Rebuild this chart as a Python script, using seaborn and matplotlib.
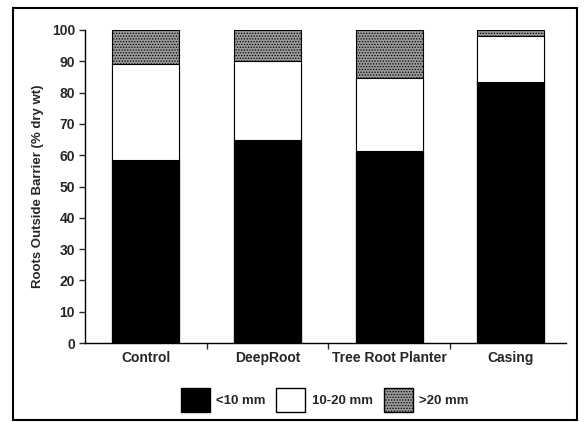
import numpy as np
import pandas as pd
import seaborn as sns
import matplotlib.pyplot as plt
import matplotlib.patches as patches
from matplotlib.ticker import FixedLocator

categories = ["Control", "DeepRoot", "Tree Root Planter", "Casing"]
small = [58.5, 65.0, 61.5, 83.5]      # <10 mm
medium = [30.5, 25.0, 23.0, 14.5]     # 10-20 mm
large = [11.0, 10.0, 15.5, 2.0]       # >20 mm
legend_labels = ["<10 mm", "10-20 mm", ">20 mm"]

df = pd.DataFrame({"treatment": categories, "small": small, "medium": medium, "large": large})
df["top_medium"] = df["small"] + df["medium"]
df["top_large"] = df["top_medium"] + df["large"]

sns.set_style("white")
plt.rcParams["font.family"] = ["Liberation Sans", "DejaVu Sans"]
plt.rcParams["font.weight"] = "bold"
plt.rcParams["hatch.color"] = "#3a3a3a"
plt.rcParams["hatch.linewidth"] = 0.6

fig = plt.figure(figsize=(5.85, 4.22), dpi=100)
ax = fig.add_axes([0.145, 0.187, 0.822, 0.742])

# overlay cumulative bars, tallest first
sns.barplot(data=df, x="treatment", y="top_large", color="#9a9a9a", width=0.55,
            edgecolor="black", linewidth=0.8, hatch="......", saturation=1, ax=ax)
sns.barplot(data=df, x="treatment", y="top_medium", color="white", width=0.55,
            edgecolor="black", linewidth=0.8, saturation=1, ax=ax)
sns.barplot(data=df, x="treatment", y="small", color="black", width=0.55,
            edgecolor="black", linewidth=0.8, saturation=1, ax=ax)

ax.set_ylim(0, 100)
ax.set_xlim(-0.5, 3.45)
ax.set_yticks(range(0, 101, 10))
ax.set_xlabel("")
ax.set_ylabel("Roots Outside Barrier (% dry wt)", fontsize=9.5, fontweight="bold", labelpad=6)
sns.despine(ax=ax)
for s in ["left", "bottom"]:
    ax.spines[s].set_color("black")
    ax.spines[s].set_linewidth(1.0)

ax.tick_params(axis="y", left=True, length=4, width=1, labelsize=10, pad=3)
ax.tick_params(axis="x", which="major", bottom=False, labelsize=10, pad=2)
ax.xaxis.set_minor_locator(FixedLocator([0.5, 1.5, 2.5]))
ax.tick_params(axis="x", which="minor", bottom=True, length=4, width=1)
for lbl in ax.get_xticklabels() + ax.get_yticklabels():
    lbl.set_fontweight("bold")

handles = [
    patches.Patch(facecolor="black", edgecolor="black", label=legend_labels[0]),
    patches.Patch(facecolor="white", edgecolor="black", label=legend_labels[1]),
    patches.Patch(facecolor="#9a9a9a", edgecolor="black", hatch="......", label=legend_labels[2]),
]
fig.legend(handles=handles, loc="center", bbox_to_anchor=(0.555, 0.053), ncol=3,
           frameon=False, handlelength=2.2, handleheight=2.4, handletextpad=0.5,
           columnspacing=0.8, prop={"size": 9.5, "weight": "bold"})

# outer frame around the figure
fig.patches.append(patches.Rectangle((0.022, 0.005), 0.965, 0.975, transform=fig.transFigure,
                                     fill=False, edgecolor="black", linewidth=1.5))

fig.savefig("out.png", dpi=100)
